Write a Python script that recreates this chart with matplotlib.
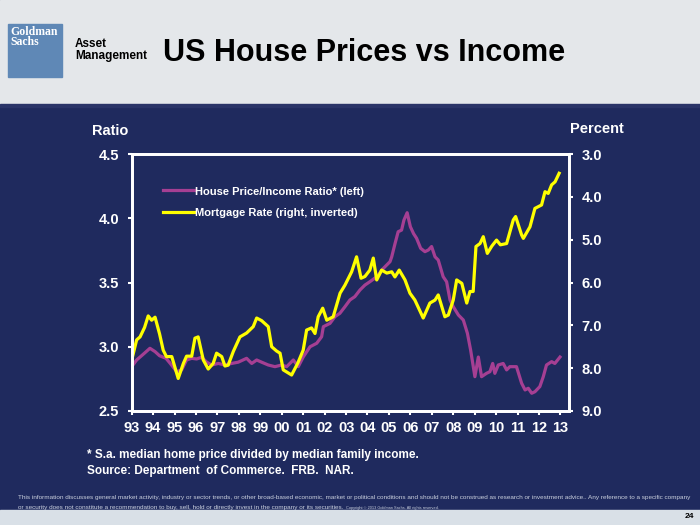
import matplotlib
matplotlib.use('Agg')
import matplotlib.pyplot as plt
from matplotlib.patches import Rectangle

# Chart data (fractional years)
ratio_years = [1993.0, 1993.23, 1993.5, 1993.85, 1994.09, 1994.3, 1994.6, 1994.8, 1995.1, 1995.33,
               1995.56, 1995.8, 1996.03, 1996.26, 1996.5, 1996.73, 1997.04, 1997.35, 1997.66, 1997.97,
               1998.36, 1998.6, 1998.83, 1999.06, 1999.37, 1999.68, 2000.0, 2000.23, 2000.54, 2000.77,
               2001.0, 2001.32, 2001.63, 2001.86, 2001.94, 2002.25, 2002.48, 2002.71, 2002.95, 2003.18,
               2003.41, 2003.65, 2003.88, 2004.11, 2004.43, 2004.74, 2005.05, 2005.13, 2005.28, 2005.43,
               2005.59, 2005.7, 2005.85, 2006.0, 2006.15, 2006.29, 2006.48, 2006.68, 2006.84, 2006.99,
               2007.15, 2007.3, 2007.53, 2007.69, 2007.85, 2008.0, 2008.24, 2008.47, 2008.66, 2008.81,
               2009.01, 2009.17, 2009.32, 2009.55, 2009.71, 2009.84, 2009.94, 2010.1, 2010.33, 2010.49,
               2010.64, 2010.95, 2011.19, 2011.35, 2011.5, 2011.66, 2011.81, 2012.04, 2012.2, 2012.35,
               2012.59, 2012.74, 2012.98]
ratio_vals = [2.845, 2.897, 2.936, 2.988, 2.962, 2.93, 2.91, 2.87, 2.806, 2.82,
              2.897, 2.91, 2.905, 2.918, 2.88, 2.858, 2.87, 2.858, 2.87, 2.88,
              2.91, 2.87, 2.897, 2.88, 2.858, 2.845, 2.858, 2.845, 2.897, 2.845,
              2.92, 3.0, 3.027, 3.078, 3.156, 3.182, 3.234, 3.26, 3.312, 3.364,
              3.39, 3.442, 3.48, 3.506, 3.545, 3.61, 3.662, 3.70, 3.80, 3.895,
              3.908, 3.986, 4.043, 3.934, 3.88, 3.844, 3.766, 3.74, 3.753, 3.78,
              3.70, 3.675, 3.545, 3.506, 3.364, 3.312, 3.247, 3.208, 3.105, 2.975,
              2.767, 2.92, 2.767, 2.793, 2.806, 2.87, 2.793, 2.858, 2.87, 2.82,
              2.845, 2.845, 2.716, 2.664, 2.677, 2.638, 2.65, 2.69, 2.767, 2.858,
              2.884, 2.87, 2.92]

mort_years = [1993.0, 1993.23, 1993.39, 1993.6, 1993.77, 1993.93, 1994.09, 1994.3, 1994.47, 1994.62,
              1994.87, 1995.17, 1995.41, 1995.56, 1995.8, 1995.95, 1996.1, 1996.34, 1996.57, 1996.8,
              1996.96, 1997.2, 1997.35, 1997.5, 1997.74, 1998.05, 1998.36, 1998.67, 1998.83, 1999.06,
              1999.37, 1999.53, 1999.76, 1999.92, 2000.07, 2000.46, 2000.75, 2001.0, 2001.16, 2001.39,
              2001.55, 2001.7, 2001.91, 2002.1, 2002.4, 2002.72, 2002.95, 2003.26, 2003.49, 2003.7,
              2003.88, 2004.11, 2004.27, 2004.43, 2004.66, 2004.9, 2005.13, 2005.28, 2005.48, 2005.75,
              2005.98, 2006.21, 2006.6, 2006.91, 2007.15, 2007.3, 2007.61, 2007.77, 2008.0, 2008.16,
              2008.4, 2008.63, 2008.78, 2008.93, 2009.06, 2009.25, 2009.4, 2009.59, 2009.8, 2010.02,
              2010.2, 2010.49, 2010.8, 2010.91, 2011.19, 2011.27, 2011.58, 2011.81, 2012.12, 2012.28,
              2012.43, 2012.59, 2012.75, 2012.94]
mort_rate = [7.81, 7.34, 7.27, 7.05, 6.78, 6.88, 6.81, 7.2, 7.58, 7.73,
             7.73, 8.24, 7.89, 7.72, 7.72, 7.30, 7.27, 7.81, 8.02, 7.89,
             7.65, 7.73, 7.95, 7.93, 7.61, 7.27, 7.18, 7.03, 6.83, 6.89,
             7.03, 7.50, 7.60, 7.65, 8.04, 8.16, 7.88, 7.58, 7.11, 7.06,
             7.19, 6.80, 6.60, 6.88, 6.80, 6.25, 6.06, 5.75, 5.40, 5.90,
             5.86, 5.71, 5.43, 5.94, 5.71, 5.78, 5.75, 5.87, 5.71, 5.94,
             6.25, 6.41, 6.83, 6.48, 6.41, 6.29, 6.80, 6.76, 6.41, 5.94,
             6.02, 6.48, 6.21, 6.21, 5.16, 5.09, 4.93, 5.32, 5.15, 5.01,
             5.12, 5.09, 4.54, 4.46, 4.89, 4.97, 4.70, 4.27, 4.19, 3.88,
             3.92, 3.72, 3.65, 3.45]

year_ticks = list(range(1993, 2014))
year_labels = ['%02d' % (y % 100) for y in year_ticks]
ratio_ticks = [2.5, 3.0, 3.5, 4.0, 4.5]
rate_ticks = [3.0, 4.0, 5.0, 6.0, 7.0, 8.0, 9.0]

NAVY = '#1F2A5E'
PURPLE = '#A53F93'
YELLOW = '#FFFF00'
FONT = ['Liberation Sans', 'DejaVu Sans']
plt.rcParams['font.family'] = FONT

fig = plt.figure(figsize=(7, 5.25), dpi=100)
fig.patch.set_facecolor(NAVY)

# page bands
fig.patches.append(Rectangle((0, 0.8), 1, 0.2, transform=fig.transFigure, color='#E4E7EA', zorder=0))
fig.patches.append(Rectangle((0, 0.797), 1, 0.004, transform=fig.transFigure, color='#2A3468', zorder=0))
fig.patches.append(Rectangle((0, 0.0), 1, 0.028, transform=fig.transFigure, color='#D9E0E7', zorder=0))

# logo
fig.patches.append(Rectangle((8 / 700, 1 - 77 / 525), 54 / 700, 53 / 525, transform=fig.transFigure,
                             color='#5F88B6', zorder=1))
fig.text(10 / 700, 1 - 26 / 525, 'Goldman\nSachs', color='white', fontsize=8.5, fontweight='bold',
         va='top', ha='left', family=['Liberation Serif', 'DejaVu Serif'], linespacing=0.8)
fig.text(75 / 700, 1 - 50 / 525, 'Asset\nManagement', color='black', fontsize=8.5, fontweight='bold',
         va='center', ha='left', linespacing=1.0)
fig.text(163 / 700, 1 - 53 / 525, 'US House Prices vs Income', color='black', fontsize=22,
         fontweight='bold', va='center', ha='left')

ax = fig.add_axes([131.7 / 700, 1 - 411 / 525, (569 - 131.7) / 700, (411 - 154) / 525])
ax.set_facecolor(NAVY)
ax2 = ax.twinx()

ax.plot(ratio_years, ratio_vals, color=PURPLE, lw=2.3, label='House Price/Income Ratio* (left)')
ax2.plot(mort_years, mort_rate, color=YELLOW, lw=2.3, label='Mortgage Rate (right, inverted)')

ax.set_xlim(1993, 2013.4)
ax.set_ylim(2.5, 4.5)
ax2.set_ylim(9.0, 3.0)

ax.set_xticks(year_ticks)
ax.set_xticklabels(year_labels)
ax.set_yticks(ratio_ticks)
ax.set_yticklabels(['%.1f' % v for v in ratio_ticks])
ax2.set_yticks(rate_ticks)
ax2.set_yticklabels(['%.1f' % v for v in rate_ticks])

for a in (ax, ax2):
    for s in a.spines.values():
        s.set_color('white')
        s.set_linewidth(2)
    a.tick_params(colors='white', width=1.5, length=3, labelsize=10.5)
    for lab in a.get_xticklabels() + a.get_yticklabels():
        lab.set_fontweight('bold')
ax.tick_params(axis='x', pad=4, labelsize=10.5)
ax.tick_params(axis='y', pad=6)
ax2.tick_params(axis='y', pad=6)

fig.text(92 / 700, 1 - 131 / 525, 'Ratio', color='white', fontsize=10.5, fontweight='bold',
         ha='left', va='center')
fig.text(570 / 700, 1 - 129 / 525, 'Percent', color='white', fontsize=10.5, fontweight='bold',
         ha='left', va='center')

h1, l1 = ax.get_legend_handles_labels()
h2, l2 = ax2.get_legend_handles_labels()
leg = ax2.legend(h1 + h2, l1 + l2, loc='upper left', bbox_to_anchor=(0.06, 0.9), frameon=False,
                 handlelength=2.2, handletextpad=0.1, labelspacing=0.7, borderaxespad=0)
for t in leg.get_texts():
    t.set_color('white')
    t.set_fontweight('bold')
    t.set_fontsize(8)

fig.text(87 / 700, 1 - 455 / 525, '* S.a. median home price divided by median family income.',
         color='white', fontsize=8.5, fontweight='bold', ha='left', va='center')
fig.text(87 / 700, 1 - 471 / 525, 'Source: Department  of Commerce.  FRB.  NAR.',
         color='white', fontsize=8.5, fontweight='bold', ha='left', va='center')

line1 = fig.text(18 / 700, 1 - 497 / 525,
                 'This information discusses general market activity, industry or sector trends, or other '
                 'broad-based economic, market or political conditions and should not be construed as research '
                 'or investment advice.. Any reference to a specific company',
                 color='#C9CFDD', fontsize=4.4, ha='left', va='center')
line2 = fig.text(18 / 700, 1 - 507 / 525,
                 'or security does not constitute a recommendation to buy, sell, hold or directly invest in the '
                 'company or its securities.',
                 color='#C9CFDD', fontsize=4.4, ha='left', va='center')

# fit the disclaimer to the slide width, then put the copyright note after line 2
fig.canvas.draw()
w = line1.get_window_extent().width
size = 4.4 * 670 / w
line1.set_fontsize(size)
line2.set_fontsize(size)
fig.canvas.draw()
if line1.get_window_extent().x1 > 692:
    size *= 0.97
    line1.set_fontsize(size)
    line2.set_fontsize(size)
    fig.canvas.draw()
end_x = line2.get_window_extent().x1
fig.text((end_x + 3) / 700, 1 - 507.5 / 525, 'Copyright \u00a9 2013 Goldman Sachs. All rights reserved.',
         color='#C9CFDD', fontsize=2.8, ha='left', va='center')
fig.text(694 / 700, 1 - 517 / 525, '24', color='black', fontsize=6, fontweight='bold',
         ha='right', va='center')

fig.savefig('out.png', dpi=100, facecolor=fig.get_facecolor())
